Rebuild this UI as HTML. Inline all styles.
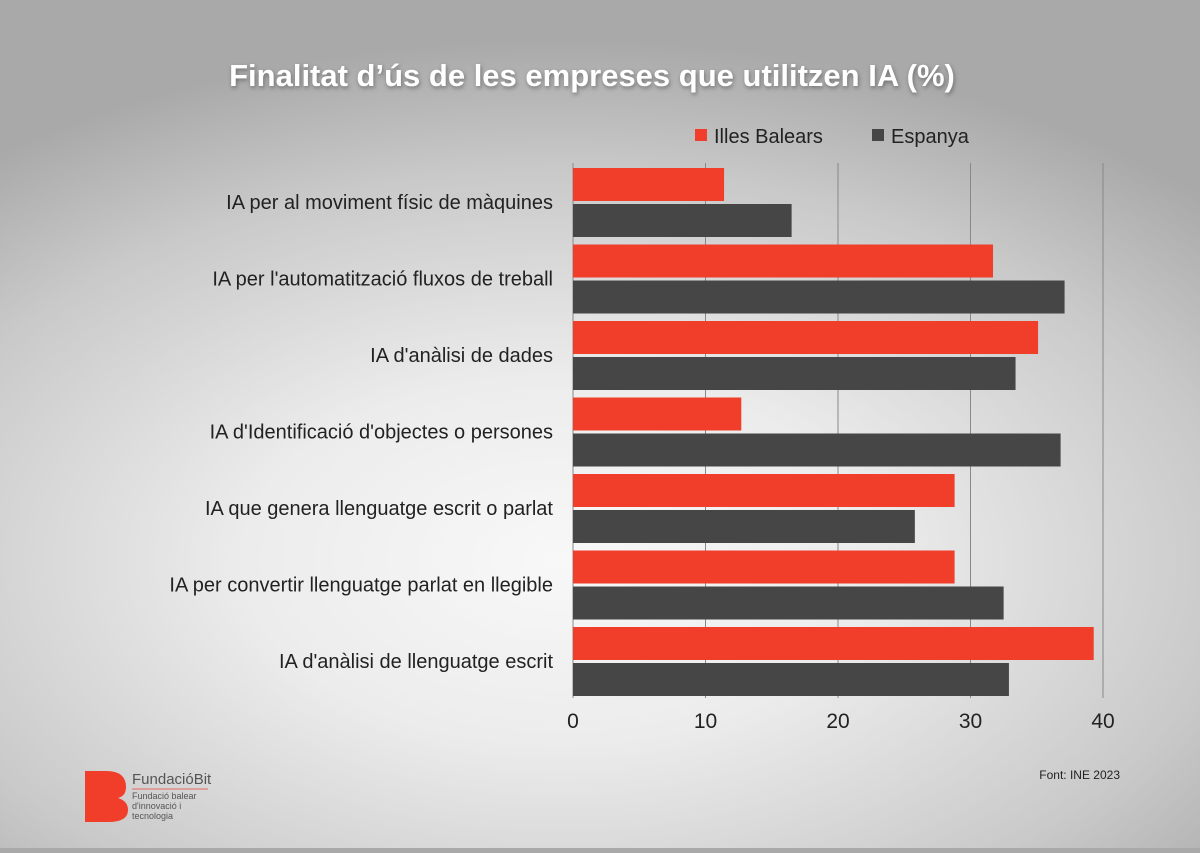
<!DOCTYPE html>
<html><head><meta charset="utf-8"><style>
html,body{margin:0;padding:0}
body{width:1200px;height:848px;overflow:hidden;font-family:"Liberation Sans",sans-serif;
background:radial-gradient(ellipse 900px 520px at 560px 560px,#f8f8f8 0%,#ececec 35%,#c9c9c9 75%,#a9a9a9 100%);}
</style></head><body>
<svg id="chart" width="1200" height="848">
<text x="592" y="86" text-anchor="middle" font-size="31" font-weight="bold" fill="#fff" style="filter:drop-shadow(1px 2px 2px rgba(0,0,0,0.35))">Finalitat d’ús de les empreses que utilitzen IA (%)</text>
<g>
<rect x="695" y="129" width="12" height="12" fill="#f03e2a"/>
<text x="714" y="143" font-size="20" fill="#222">Illes Balears</text>
<rect x="872" y="129" width="12" height="12" fill="#464646"/>
<text x="891" y="143" font-size="20" fill="#222">Espanya</text>
</g>
<g id="grid"></g><g id="bars"></g><g id="labels"></g>
<g>
<path d="M85 771 H106 Q126 771 126 787 Q126 796 118 798 Q128 801 128 810 Q128 822 108 822 H85 Z" fill="#f03e2a"/>
<text x="132" y="784" font-size="15" fill="#555">FundacióBit</text>
<line x1="132" y1="789" x2="208" y2="789" stroke="#e06a5e" stroke-width="1"/>
<text x="132" y="799" font-size="9" fill="#555">Fundació balear</text>
<text x="132" y="809" font-size="9" fill="#555">d'innovació i</text>
<text x="132" y="819" font-size="9" fill="#555">tecnologia</text>
</g>
<text x="1120" y="779" text-anchor="end" font-size="12" fill="#222">Font: INE 2023</text>
</svg>
<script>
const categories=["IA per al moviment físic de màquines","IA per l'automatització fluxos de treball","IA d'anàlisi de dades","IA d'Identificació d'objectes o persones","IA que genera llenguatge escrit o parlat","IA per convertir llenguatge parlat en llegible","IA d'anàlisi de llenguatge escrit"];
const balears=[11.4,31.7,35.1,12.7,28.8,28.8,39.3];
const espanya=[16.5,37.1,33.4,36.8,25.8,32.5,32.9];
const ticks=[0,10,20,30,40];
const NS="http://www.w3.org/2000/svg";
const x=v=>573+v*13.25;
const top0=168,step=76.5,bh=33;
const grid=document.getElementById('grid'),bars=document.getElementById('bars'),labels=document.getElementById('labels');
function mk(tag,attrs,parent){const e=document.createElementNS(NS,tag);for(const k in attrs)e.setAttribute(k,attrs[k]);parent.appendChild(e);return e;}
ticks.forEach(t=>{
 if(t>0){const l=mk('line',{x1:x(t),x2:x(t),y1:163,y2:698,stroke:'#888','stroke-width':1},grid);
 
 }
 const tx=mk('text',{x:x(t),y:728,'text-anchor':'middle','font-size':21,fill:'#222'},labels);
 tx.textContent=t;
 
 
});
const ax=mk('line',{x1:573,x2:573,y1:163,y2:698,stroke:'#888','stroke-width':1},grid);


categories.forEach((c,i)=>{
 const y=top0+i*step;
 const r=mk('rect',{x:x(0),y:y,width:x(balears[i])-x(0),height:bh,fill:'#f03e2a'},bars);
 
 
 const g=mk('rect',{x:x(0),y:y+36,width:x(espanya[i])-x(0),height:bh,fill:'#464646'},bars);
 
 
 const t=mk('text',{x:553,y:y+41,'text-anchor':'end','font-size':20,fill:'#222'},labels);
 t.textContent=c;
 
 
});
</script>
</body></html>
